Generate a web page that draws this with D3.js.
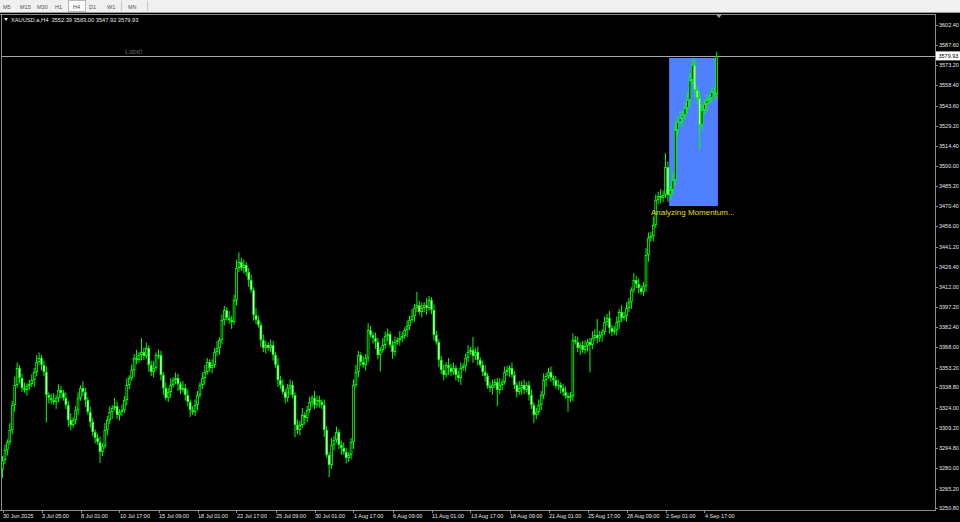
<!DOCTYPE html>
<html><head><meta charset="utf-8">
<script src="https://cdn.jsdelivr.net/npm/d3@7/dist/d3.min.js"></script>
<style>html,body{margin:0;padding:0;background:#000;overflow:hidden}</style>
</head><body><svg id="c" width="960" height="522"></svg>
<script>
// ---- DATA (XAUUSD.a, H4) ----
const firstOpen = 3279.0;
const closes = [
3285.9,3293.2,3299.0,3307.8,3326.0,3340.5,3352.9,3345.6,3338.3,3336.9,
3339.8,3341.2,3344.1,3350.0,3357.2,3360.2,3355.1,3350.0,3333.2,3331.1,
3329.6,3328.1,3331.1,3336.9,3334.7,3331.1,3326.0,3315.0,3311.4,3315.0,
3322.3,3331.1,3338.3,3335.4,3329.6,3320.9,3313.6,3306.3,3302.0,3299.0,
3291.8,3296.1,3307.8,3315.0,3320.9,3323.8,3325.2,3318.7,3320.9,3322.3,
3329.6,3340.5,3345.6,3351.4,3360.2,3358.7,3362.3,3364.5,3361.6,3367.4,
3355.1,3350.0,3352.9,3362.3,3362.3,3347.8,3338.3,3331.1,3335.4,3340.5,
3344.1,3345.6,3341.2,3336.9,3338.3,3333.2,3328.1,3322.3,3320.9,3326.0,
3333.2,3340.5,3345.6,3350.0,3357.2,3352.9,3355.1,3364.5,3367.4,3373.2,
3387.8,3395.1,3389.3,3387.8,3386.3,3402.3,3425.6,3430.0,3425.6,3427.8,
3422.7,3416.9,3409.6,3391.4,3387.8,3384.2,3373.2,3367.4,3369.6,3367.4,
3369.6,3362.3,3355.1,3344.1,3340.5,3335.4,3331.1,3338.3,3340.5,3333.2,
3311.4,3307.8,3311.4,3318.7,3316.5,3322.3,3328.1,3331.1,3326.0,3329.6,
3328.1,3326.0,3307.8,3289.6,3282.3,3296.9,3300.5,3306.3,3296.9,3294.7,
3291.8,3287.4,3289.6,3299.0,3340.5,3350.0,3362.3,3357.2,3355.1,3360.2,
3380.5,3376.9,3374.7,3371.8,3362.3,3366.0,3369.6,3376.2,3377.6,3369.6,
3364.5,3371.8,3373.2,3374.7,3376.2,3380.5,3383.4,3387.8,3390.7,3396.5,
3398.7,3393.6,3396.5,3398.7,3396.5,3402.3,3395.1,3376.9,3371.8,3358.7,
3351.4,3347.8,3355.1,3352.9,3350.0,3352.9,3347.8,3345.6,3352.9,3354.3,
3360.2,3364.5,3366.0,3361.6,3364.5,3358.7,3355.1,3350.0,3347.1,3339.8,
3338.3,3340.5,3342.7,3336.9,3340.5,3342.7,3350.0,3351.4,3352.9,3347.8,
3340.5,3335.4,3338.3,3340.5,3336.9,3340.5,3333.2,3326.0,3318.7,3320.9,
3326.0,3333.2,3344.1,3347.1,3350.0,3345.6,3344.1,3339.8,3340.5,3338.3,
3335.4,3332.5,3331.1,3332.5,3373.2,3371.8,3367.4,3369.6,3366.0,3368.9,
3371.8,3369.6,3374.7,3376.9,3374.7,3376.9,3379.1,3386.3,3389.3,3382.0,
3379.1,3380.5,3386.3,3393.6,3389.3,3390.7,3396.5,3400.9,3409.6,3416.9,
3414.0,3411.1,3408.2,3412.5,3435.1,3447.5,3448.9,3456.9,3475.1,3478.0,
3476.6,3478.7,3499.1,3478.7,3482.4,3489.6,3526.0,3531.8,3534.8,3536.9,
3542.0,3547.8,3562.4,3573.3,3555.1,3549.3,3529.7,3540.6,3544.9,3547.8,
3549.3,3553.7,3552.39,3579.93];
const upperWick = [
3,4,2,5,3,6,4,2,3,4, 2,3,4,3,5,4,2,3,4,2, 3,5,2,4,3,2,4,3,5,2, 3,4,2,5,3,2,4,3,2,3,
4,2,5,3,4,2,6,3,2,4, 3,5,2,4,3,6,2,10,3,4, 2,3,5,2,4,3,2,4,3,5, 2,4,3,2,5,3,4,2,3,4,
3,2,4,5,3,2,4,3,5,2, 4,3,2,5,3,4,6,7,3,4, 2,3,4,2,5,3,2,4,3,2, 4,3,2,5,3,4,2,3,4,3,
2,4,3,5,2,3,4,2,5,3, 3,2,4,3,2,5,3,4,2,3, 4,3,2,3,4,5,3,2,4,3, 5,3,2,4,3,2,5,3,4,2,
3,4,2,5,3,2,4,3,5,3, 9.5,3,4,2,5,3,2,4,3,2, 3,4,2,5,3,4,2,3,4,2, 3,5,2,9.4,3,4,2,3,5,2,
3,4,2,3,5,2,4,3,2,4, 3,2,5,3,4,2,3,4,2,3, 4,3,5,2,3,4,2,3,4,2, 3,4,2,3,5,3,4,2,3,4,
2,3,5,4,11.6,3,2,4,3,5, 2,3,4,2,5,3,4,3,2,5, 3,4,2,3,5,4,3,6,4,3, 5,3,10,4,3,5,6,4,5,3,
4,6,5,5,4,3,5,4,3,4, 3,4,3,3.07];
const lowerWick = [
6,3,4,2,3,5,2,4,3,2, 4,3,2,5,3,2,4,3,20,4, 3,2,5,3,4,2,3,5,4,2, 3,4,2,3,5,2,4,3,4,2,
8,3,2,4,3,5,2,3,4,3, 2,4,3,2,5,3,2,4,3,2, 5,3,4,2,3,4,5,2,3,4, 2,3,5,3,2,4,3,5,2,3,
4,2,3,5,2,3,4,2,3,5, 3,4,2,3,5,2,4,3,2,4, 3,5,2,4,3,2,5,3,4,2, 3,4,2,5,3,2,4,3,5,2,
9,3,4,2,5,3,2,4,3,2, 4,3,5,2,9,3,4,2,3,5, 2,4,3,3,5,2,4,3,2,4, 3,2,4,5,3,12,2,3,4,2,
5,3,2,4,3,2,5,3,2,4, 3,2,4,3,5,2,3,4,2,5, 3,4,2,5,3,2,4,3,5,2, 4,3,2,5,3,4,2,3,4,2,
3,5,2,12,3,4,2,3,5,2, 3,4,2,5,3,2,4,3,6,3, 2,4,3,5,2,3,4,2,3,4, 3,2,10,3,4,2,3,5,2,3,
4,20,3,2,4,3,5,2,3,4, 3,2,4,5,3,2,4,3,5,2, 3,4,2,3,4,5,3,4,2,3, 4,3,2,5,4,3,4,5,3,6,
3,4,5,3,5,4,18,4,3,5, 3,4,3,4.47];

const priceTicks = ["3602.40","3587.60","3573.20","3558.40","3543.60","3529.20","3514.40","3500.00",
"3485.20","3470.40","3456.00","3441.20","3426.40","3412.00","3397.20","3382.40","3368.00",
"3353.20","3338.80","3324.00","3309.20","3294.80","3280.00","3265.20","3250.80"];
const timeLabels = ["30 Jun 2025","3 Jul 05:00","8 Jul 01:00","10 Jul 17:00","15 Jul 09:00","18 Jul 01:00",
"22 Jul 17:00","25 Jul 09:00","30 Jul 01:00","1 Aug 17:00","6 Aug 09:00","11 Aug 01:00","13 Aug 17:00",
"18 Aug 09:00","21 Aug 01:00","25 Aug 17:00","28 Aug 09:00","2 Sep 01:00","4 Sep 17:00"];
const labelEvery = 16;
const timeframes = ["M5","M15","M30","H1","H4","D1","W1","MN"];
const headerText = "XAUUSD.a,H4  3552.39 3583.00 3547.92 3579.93";
const lastPrice = 3579.93;
const zone = {startBar: 273.5, endBar: 293.5, top: 3578.4, bottom: 3470.7, text: "Analyzing Momentum..."};
const labelObj = "Label";

// ---- LAYOUT ----
const svg = d3.select("#c");
const W = 960, H = 522, plotRight = 935, plotTop = 14, plotBottom = 510;
const x = d3.scaleLinear().domain([0, closes.length - 1]).range([2.5, 2.5 + (closes.length - 1) * 2.4375]);
const y = d3.scaleLinear().domain([3250.8, 3602.4]).range([508.3, 25]);
const FONT = "'Liberation Sans', Arial, sans-serif";

svg.append("rect").attr("width", W).attr("height", H).attr("fill", "#000");

// toolbar
svg.append("rect").attr("x",0).attr("y",0).attr("width",W).attr("height",12).attr("fill","#f0f0f0");
svg.append("line").attr("x1",0).attr("x2",W).attr("y1",12.5).attr("y2",12.5).attr("stroke","#9a9a9a");
const tfPos = {"M5":3,"M15":20,"M30":37,"H1":55,"H4":73,"D1":89,"W1":107,"MN":128};
svg.append("rect").attr("x",68.5).attr("y",0.5).attr("width",17).attr("height",11).attr("fill","#fbfbfb").attr("stroke","#b8b8b8");
[121.5,147.5].forEach(s=>svg.append("line").attr("x1",s).attr("x2",s).attr("y1",1).attr("y2",11).attr("stroke","#c8c8c8"));
svg.selectAll("text.tf").data(timeframes).enter().append("text").attr("class","tf")
  .attr("x", d => tfPos[d]).attr("y", 8.5).attr("font-family", FONT).attr("font-size", 5.5)
  .attr("fill", "#505050").text(d => d);

// frame
svg.append("line").attr("x1",0).attr("x2",plotRight).attr("y1",plotTop+0.5).attr("y2",plotTop+0.5).attr("stroke","#8c8c8c");
svg.append("line").attr("x1",1.5).attr("x2",1.5).attr("y1",plotTop).attr("y2",plotBottom).attr("stroke","#8c8c8c");
svg.append("line").attr("x1",plotRight+0.5).attr("x2",plotRight+0.5).attr("y1",plotTop).attr("y2",plotBottom+0.5).attr("stroke","#8c8c8c");
svg.append("line").attr("x1",0).attr("x2",plotRight+1).attr("y1",plotBottom+0.5).attr("y2",plotBottom+0.5).attr("stroke","#8c8c8c");

// zone rectangle (background object)
svg.append("rect")
  .attr("x", x(zone.startBar)).attr("y", y(zone.top))
  .attr("width", x(zone.endBar) - x(zone.startBar)).attr("height", y(zone.bottom) - y(zone.top))
  .attr("fill", "#4f80ff");

// current price line
const yl = Math.round(y(lastPrice)) + 0.5;
svg.append("line").attr("x1",2).attr("x2",plotRight).attr("y1",yl).attr("y2",yl).attr("stroke","#a8a8a8").attr("stroke-width",1);

// candles
const bars = closes.map((c, i) => {
  const o = i === 0 ? firstOpen : closes[i - 1];
  return {i, o, c, h: Math.max(o, c) + upperWick[i], l: Math.min(o, c) - lowerWick[i]};
});
const g = svg.append("g");
bars.forEach(b => {
  const cx = x(b.i);
  g.append("line").attr("x1", cx).attr("x2", cx).attr("y1", y(b.h)).attr("y2", y(b.l))
    .attr("stroke", "#00ff00").attr("stroke-width", 1);
  const top = y(Math.max(b.o, b.c)), bot = y(Math.min(b.o, b.c));
  const hgt = Math.max(1, bot - top);
  g.append("rect").attr("x", cx - 1.3).attr("y", top).attr("width", 2.6).attr("height", hgt).attr("fill", "#00ff00");
  if (hgt > 2.5) {
    g.append("rect").attr("x", cx - 0.45).attr("y", top + 1).attr("width", 0.9).attr("height", hgt - 2)
      .attr("fill", b.c >= b.o ? "#000000" : "#ffffff");
  }
});

// right price axis
svg.selectAll("line.pt").data(priceTicks).enter().append("line").attr("class","pt")
  .attr("x1", plotRight).attr("x2", plotRight + 3)
  .attr("y1", d => Math.round(y(+d)) + 0.5).attr("y2", d => Math.round(y(+d)) + 0.5).attr("stroke", "#8c8c8c");
svg.selectAll("text.pt").data(priceTicks).enter().append("text").attr("class","pt")
  .attr("x", 939).attr("y", d => y(+d) + 2).attr("font-family", FONT).attr("font-size", 5.5)
  .attr("fill", "#e6e6e6").text(d => d);

// last price tag
svg.append("rect").attr("x", 936).attr("y", y(lastPrice) - 4.5).attr("width", 24).attr("height", 9).attr("fill", "#ffffff");
svg.append("text").attr("x", 938.5).attr("y", y(lastPrice) + 2).attr("font-family", FONT).attr("font-size", 5.5)
  .attr("fill", "#000").text(lastPrice.toFixed(2));

// time axis
svg.selectAll("line.tt").data(timeLabels).enter().append("line").attr("class","tt")
  .attr("x1", (d, k) => Math.round(x(k * labelEvery)) + 0.5).attr("x2", (d, k) => Math.round(x(k * labelEvery)) + 0.5)
  .attr("y1", plotBottom).attr("y2", plotBottom + 3).attr("stroke", "#8c8c8c");
svg.selectAll("text.tt").data(timeLabels).enter().append("text").attr("class","tt")
  .attr("x", (d, k) => x(k * labelEvery) + 0.5).attr("y", 518).attr("font-family", FONT).attr("font-size", 5.5)
  .attr("fill", "#e6e6e6").text(d => d);

// header
svg.append("path").attr("d", "M4,18 L8,18 L6,21 Z").attr("fill", "#e6e6e6");
svg.append("text").attr("x", 11).attr("y", 21.5).attr("font-family", FONT).attr("font-size", 5.7)
  .attr("fill", "#e6e6e6").style("white-space","pre").text(headerText);

// shift marker
svg.append("path").attr("d", "M716,14.5 L722,14.5 L719,18 Z").attr("fill", "#9a9a9a");

// label objects
svg.append("text").attr("x", 125).attr("y", 53.5).attr("font-family", FONT).attr("font-size", 7)
  .attr("fill", "#5a5a5a").text(labelObj);
svg.append("text").attr("x", 651).attr("y", 215).attr("font-family", FONT).attr("font-size", 8)
  .attr("fill", "#eadb2a").text(zone.text);
</script></body></html>
